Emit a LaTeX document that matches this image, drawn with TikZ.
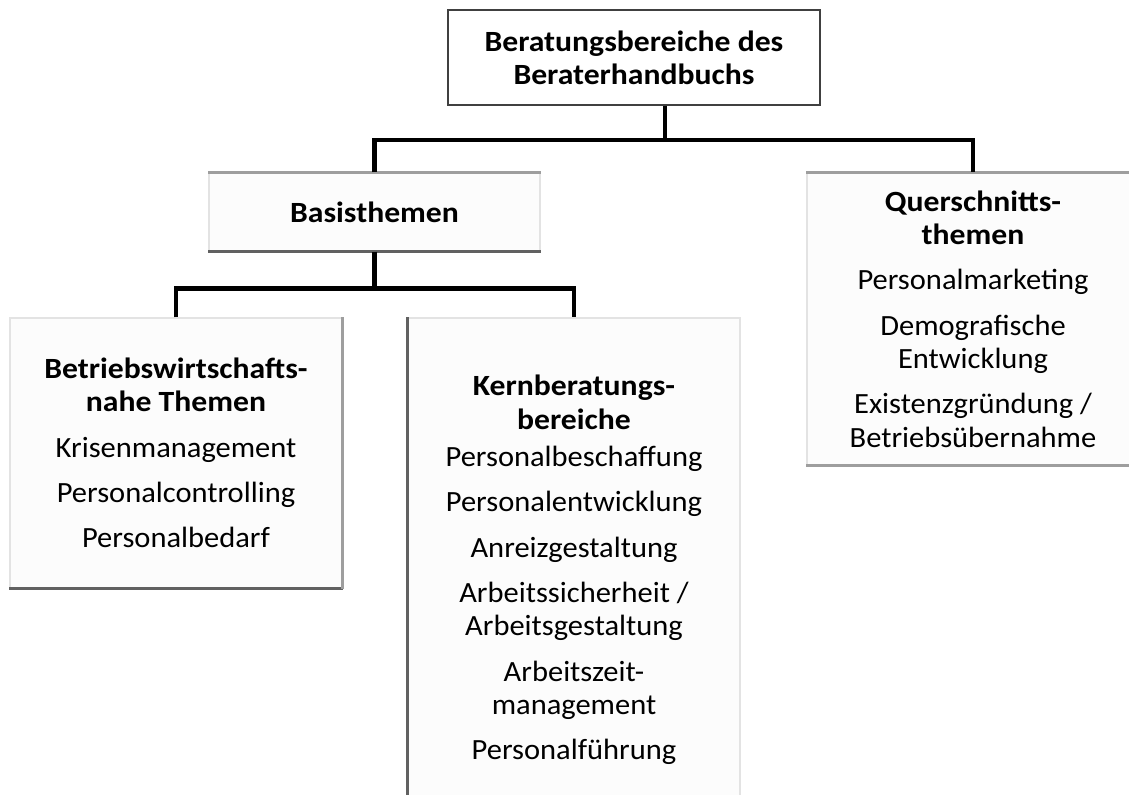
\documentclass[tikz,border=0pt]{standalone}
\usepackage{fontspec}
\setmainfont{Carlito}[FakeStretch=1.04,BoldFeatures={FakeStretch=1.08}]
\usepackage{tikz}
\tikzset{
  kasten/.style={
    draw=gray!22, fill=gray!2, line width=0.8pt,
    inner sep=0pt, align=center,
    font=\fontsize{22}{25}\selectfont
  },
  kopf/.style={
    kasten, draw=black!75, fill=white, line width=1.2pt,
    font=\fontsize{22}{25}\selectfont\bfseries
  },
  ast/.style={line width=3.6pt, black},
  schatten/.style={line width=2.4pt, black!62},
  kante/.style={line width=1.6pt, black!38}
}

\begin{document}
\begin{tikzpicture}[x=0.75pt,y=-0.75pt]
  \useasboundingbox (0,0) rectangle (1129,794);
  \clip (0,0) rectangle (1129,794);

  % boxes
  \node[kopf, minimum width=279pt, minimum height=71.25pt] (title) at (634,57.5)
    {Beratungsbereiche des\\Beraterhandbuchs};
  \node[kasten, minimum width=248.25pt, minimum height=58.5pt] (basis) at (374.5,212)
    {\bfseries Basisthemen};
  \node[kasten, minimum width=249pt, minimum height=219pt] (quer) at (973,319)
    {\textbf{Querschnitts-}\\\textbf{themen}\\[9pt]
     Personalmarketing\\[9pt]
     Demografische\\Entwicklung\\[9pt]
     Existenzgründung /\\Betriebsübernahme};
  \node[kasten, minimum width=249pt, minimum height=202.5pt] (bwl) at (176,453)
    {\textbf{Betriebswirtschafts-}\\\textbf{nahe Themen}\\[9pt]
     Krisenmanagement\\[9pt]
     Personalcontrolling\\[9pt]
     Personalbedarf};
  \node[kasten, minimum width=249pt, minimum height=378pt] (kern) at (574,570)
    {\textbf{Kernberatungs-}\\\textbf{bereiche}\\[3pt]
     Personalbeschaffung\\[9pt]
     Personalentwicklung\\[9pt]
     Anreizgestaltung\\[9pt]
     Arbeitssicherheit /\\Arbeitsgestaltung\\[9pt]
     Arbeitszeit-\\management\\[9pt]
     Personalführung};

  % shaded edges
  \draw[kante] (basis.north west) -- (basis.north east);
  \draw[schatten] (basis.south west) -- (basis.south east);
  \draw[schatten] (bwl.south west) -- (bwl.south east);
  \draw[kante] (bwl.north east) -- (bwl.south east);
  \draw[schatten] (kern.north west) -- (kern.south west);
  \draw[kante] (quer.north west) -- (quer.north east);
  \draw[kante] (quer.south west) -- (quer.south east);

  % connectors
  \coordinate (k1) at (665,140);
  \draw[ast] (title.south -| k1) -- (k1);
  \draw[ast] (basis.north) |- (k1) -| (quer.north);
  \draw[ast] (basis.south) -- ++(0,37) coordinate (k2);
  \draw[ast] (bwl.north) |- (k2) -| (kern.north);
\end{tikzpicture}
\end{document}
